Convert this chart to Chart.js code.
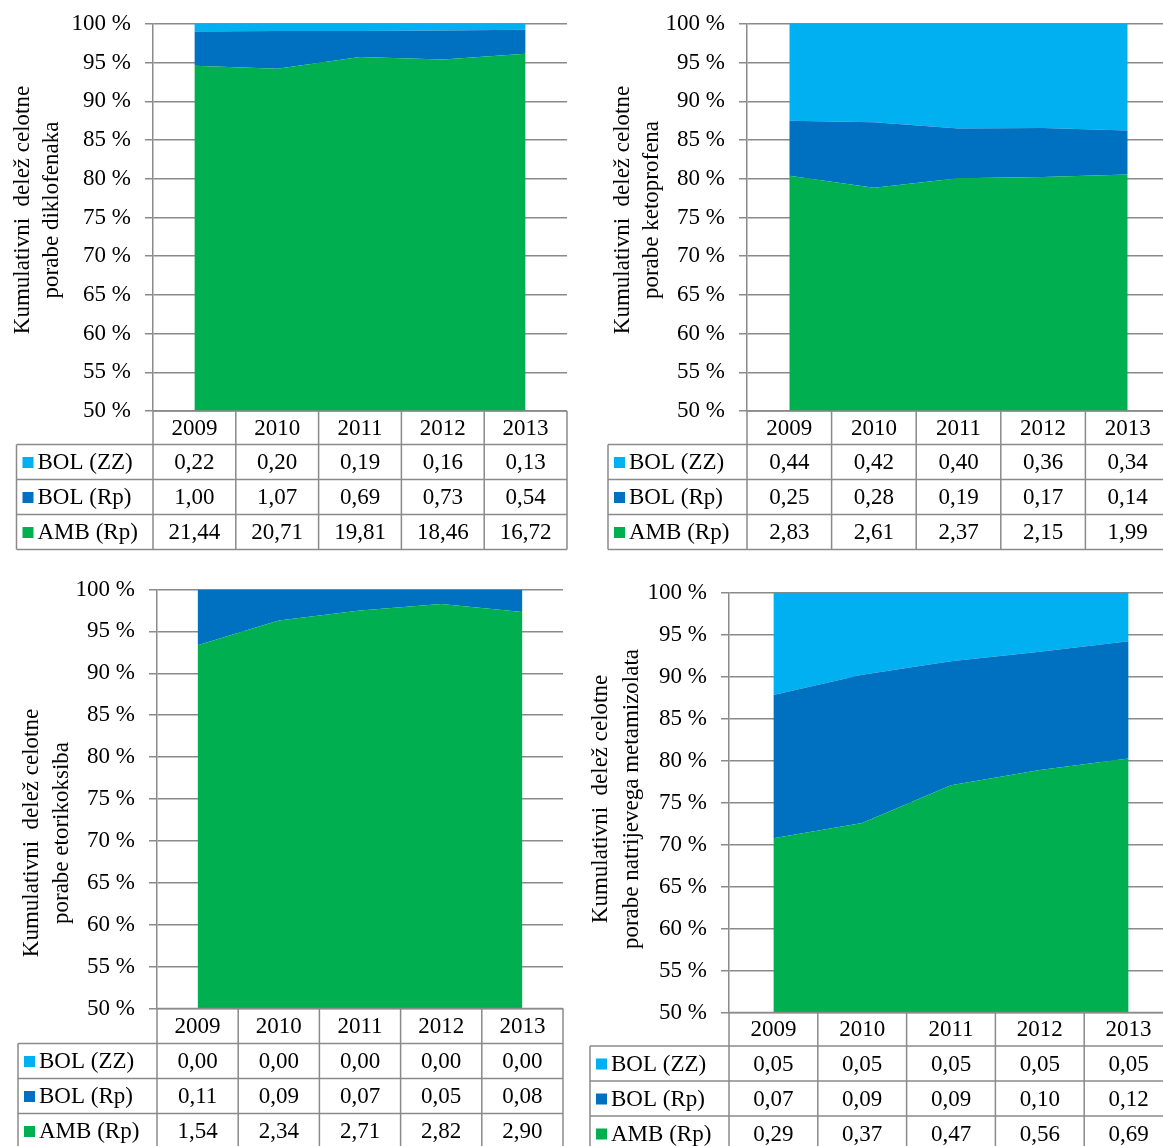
<!DOCTYPE html>
<html>
<head>
<meta charset="utf-8">
<script src="https://cdn.jsdelivr.net/npm/chart.js@4.4.1/dist/chart.umd.min.js"></script>
<style>
  html, body { margin: 0; padding: 0; background: #fff; overflow: hidden; width: 1163px; height: 1146px; }
  canvas { position: absolute; }
</style>
</head>
<body>
<canvas id="diklofenak"></canvas>
<canvas id="ketoprofen"></canvas>
<canvas id="etorikoksib"></canvas>
<canvas id="metamizol"></canvas>
<script>
// Years and series
const years = ['2009', '2010', '2011', '2012', '2013'];
const seriesNames = ['BOL (ZZ)', 'BOL (Rp)', 'AMB (Rp)'];

// Consumption by setting (values shown in the data tables)
const diklofenakZZ  = [0.22, 0.20, 0.19, 0.16, 0.13];
const diklofenakRp  = [1.00, 1.07, 0.69, 0.73, 0.54];
const diklofenakAmb = [21.44, 20.71, 19.81, 18.46, 16.72];

const ketoprofenZZ  = [0.44, 0.42, 0.40, 0.36, 0.34];
const ketoprofenRp  = [0.25, 0.28, 0.19, 0.17, 0.14];
const ketoprofenAmb = [2.83, 2.61, 2.37, 2.15, 1.99];

const etorikoksibZZ  = [0.00, 0.00, 0.00, 0.00, 0.00];
const etorikoksibRp  = [0.11, 0.09, 0.07, 0.05, 0.08];
const etorikoksibAmb = [1.54, 2.34, 2.71, 2.82, 2.90];

const metamizolZZ  = [0.05, 0.05, 0.05, 0.05, 0.05];
const metamizolRp  = [0.07, 0.09, 0.09, 0.10, 0.12];
const metamizolAmb = [0.29, 0.37, 0.47, 0.56, 0.69];

// Y axis range (percent share)
const yMin = 50, yMax = 100, yStep = 5;

const COLORS = { zz: '#00B0F0', rp: '#0070C0', amb: '#00B050' };
const FONT = "'Liberation Serif', 'Times New Roman', serif";
const GRID = '#8a8a8a';

// Share of the yearly total, in percent
function shares(part, a, b, c) {
  return part.map((v, i) => v / (a[i] + b[i] + c[i]) * 100);
}
const fmt = v => v.toFixed(2).replace('.', ',');

// Rotated two-line axis title
const axisTitlePlugin = {
  id: 'axisTitle',
  afterDraw(chart, args, opts) {
    const ctx = chart.ctx;
    ctx.save();
    ctx.font = opts.size + 'px ' + FONT;
    ctx.fillStyle = '#000';
    ctx.textAlign = 'center';
    ctx.textBaseline = 'middle';
    opts.lines.forEach((line, i) => {
      ctx.save();
      ctx.translate(opts.x[i], opts.y);
      ctx.rotate(-Math.PI / 2);
      ctx.fillText(line, 0, 0);
      ctx.restore();
    });
    ctx.restore();
  }
};

// Data table under the plot: year header row + one row per series with legend key
const dataTablePlugin = {
  id: 'dataTable',
  afterDraw(chart, args, opts) {
    const { ctx, chartArea } = chart;
    const x = chart.scales.x;
    const n = chart.data.labels.length;
    const colW = (chartArea.right - chartArea.left) / n;
    const top = chartArea.bottom;
    const headBottom = top + opts.headerHeight;
    const rows = chart.data.datasets.slice().reverse();
    const bottom = headBottom + rows.length * opts.rowHeight;
    const left = opts.legendLeft;

    ctx.save();
    ctx.strokeStyle = GRID;
    ctx.lineWidth = 1.5;
    ctx.beginPath();
    // header row top + column separators
    ctx.moveTo(chartArea.left, top); ctx.lineTo(chartArea.right, top);
    for (let i = 0; i <= n; i++) {
      const xx = i === n ? x.getPixelForValue(n - 1) + colW / 2 : x.getPixelForValue(i) - colW / 2;
      ctx.moveTo(xx, top); ctx.lineTo(xx, bottom);
    }
    // body horizontal lines
    for (let r = 0; r <= rows.length; r++) {
      const yy = headBottom + r * opts.rowHeight;
      ctx.moveTo(left, yy); ctx.lineTo(chartArea.right, yy);
    }
    ctx.moveTo(left, headBottom); ctx.lineTo(left, bottom);
    ctx.stroke();

    ctx.fillStyle = '#000';
    ctx.font = opts.size + 'px ' + FONT;
    ctx.textBaseline = 'middle';
    ctx.textAlign = 'center';
    chart.data.labels.forEach((lab, i) => {
      ctx.fillText(lab, x.getPixelForValue(i), top + opts.headerHeight / 2 + 1);
    });
    rows.forEach((ds, r) => {
      const cy = headBottom + r * opts.rowHeight + opts.rowHeight / 2 + 1;
      ds.rawValues.forEach((v, i) => {
        ctx.textAlign = 'center';
        ctx.fillText(fmt(v), x.getPixelForValue(i), cy);
      });
      ctx.fillStyle = ds.backgroundColor;
      ctx.fillRect(left + 6, cy - 6, 11, 11);
      ctx.fillStyle = '#000';
      ctx.textAlign = 'left';
      ctx.fillText(ds.label, left + 21, cy);
    });
    ctx.restore();
  }
};

function makePanel(cfg) {
  const canvas = document.getElementById(cfg.id);
  canvas.width = cfg.width;
  canvas.height = cfg.height;
  canvas.style.left = cfg.left + 'px';
  canvas.style.top = cfg.top + 'px';
  const { zz, rp, amb } = cfg;
  const a = cfg.area;

  new Chart(canvas, {
    type: 'line',
    data: {
      labels: years,
      datasets: [
        { label: seriesNames[2], rawValues: amb, data: shares(amb, zz, rp, amb),
          backgroundColor: COLORS.amb, fill: 'start' },
        { label: seriesNames[1], rawValues: rp, data: shares(rp, zz, rp, amb),
          backgroundColor: COLORS.rp, fill: '-1' },
        { label: seriesNames[0], rawValues: zz, data: shares(zz, zz, rp, amb),
          backgroundColor: COLORS.zz, fill: '-1' }
      ].map(d => Object.assign(d, {
        borderColor: 'rgba(0,0,0,0)', borderWidth: 0, pointRadius: 0, tension: 0
      }))
    },
    options: {
      responsive: false,
      animation: false,
      devicePixelRatio: 1,
      layout: { padding: { left: 0, top: a.top, right: cfg.width - a.right, bottom: cfg.height - a.bottom } },
      plugins: {
        legend: { display: false },
        tooltip: { enabled: false },
        axisTitle: { lines: cfg.title, x: cfg.titleX, y: cfg.titleY, size: 23 },
        dataTable: { headerHeight: cfg.headerHeight, rowHeight: cfg.rowHeight, legendLeft: cfg.legendLeft, size: 23 }
      },
      scales: {
        x: { type: 'category', offset: true, display: false },
        y: {
          stacked: true,
          min: yMin, max: yMax,
          afterFit: s => { s.width = a.left; s.paddingTop = 0; s.paddingBottom = 0; },
          ticks: {
            stepSize: yStep,
            padding: 14,
            color: '#000',
            font: { family: FONT, size: 23 },
            callback: v => v + ' %'
          },
          grid: { color: GRID, lineWidth: 1.5, tickLength: 8 },
          border: { color: GRID, width: 1.5 }
        }
      }
    },
    plugins: [axisTitlePlugin, dataTablePlugin]
  });
}

makePanel({
  id: 'diklofenak', left: 0, top: 0, width: 580, height: 570,
  area: { left: 153, right: 567, top: 24, bottom: 411 },
  headerHeight: 33.5, rowHeight: 35, legendLeft: 16.5,
  title: ['Kumulativni  delež celotne', 'porabe diklofenaka'], titleX: [23, 52], titleY: 210,
  zz: diklofenakZZ, rp: diklofenakRp, amb: diklofenakAmb
});
makePanel({
  id: 'ketoprofen', left: 580, top: 0, width: 600, height: 570,
  area: { left: 167, right: 590, top: 24, bottom: 411 },
  headerHeight: 33.5, rowHeight: 35, legendLeft: 28,
  title: ['Kumulativni  delež celotne', 'porabe ketoprofena'], titleX: [43, 72], titleY: 210,
  zz: ketoprofenZZ, rp: ketoprofenRp, amb: ketoprofenAmb
});
makePanel({
  id: 'etorikoksib', left: 0, top: 570, width: 580, height: 580,
  area: { left: 157, right: 563, top: 19.5, bottom: 438.5 },
  headerHeight: 35, rowHeight: 35, legendLeft: 18,
  title: ['Kumulativni  delež celotne', 'porabe etorikoksiba'], titleX: [32, 62], titleY: 263,
  zz: etorikoksibZZ, rp: etorikoksibRp, amb: etorikoksibAmb
});
makePanel({
  id: 'metamizol', left: 575, top: 570, width: 605, height: 580,
  area: { left: 154, right: 598, top: 22.5, bottom: 442.5 },
  headerHeight: 33.5, rowHeight: 35, legendLeft: 15,
  title: ['Kumulativni  delež celotne', 'porabe natrijevega metamizolata'], titleX: [26, 57], titleY: 229,
  zz: metamizolZZ, rp: metamizolRp, amb: metamizolAmb
});
</script>
</body>
</html>
